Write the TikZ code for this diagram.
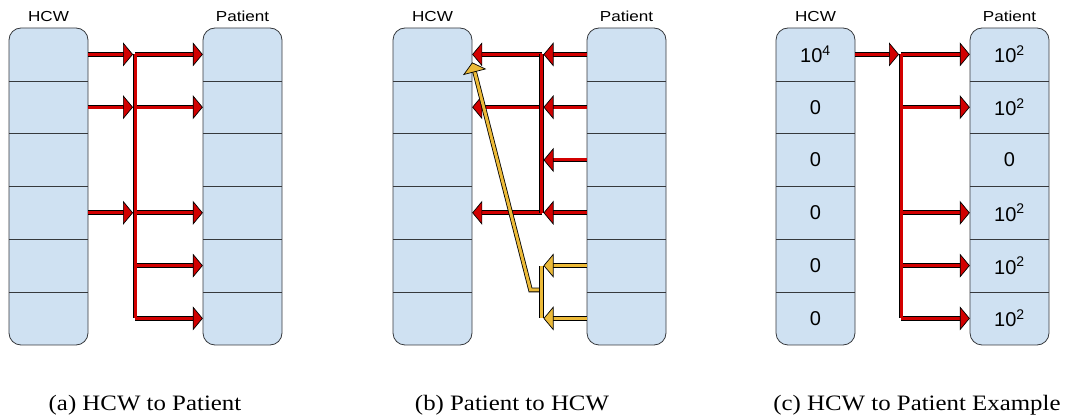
\documentclass[tikz,border=0pt]{standalone}
\usepackage{fontspec}
\setmainfont{Liberation Serif}
\setsansfont{Liberation Sans}
\newfontfamily\capfont[FakeStretch=1.13]{Liberation Serif}
\newfontfamily\headfont[FakeStretch=1.18]{Liberation Sans}
\usetikzlibrary{arrows.meta,positioning}

\definecolor{cellblue}{RGB}{207,225,242}
\definecolor{cellline}{RGB}{54,57,61}
\definecolor{pipered}{RGB}{210,0,0}
\definecolor{pipeyellow}{RGB}{236,186,56}

\tikzset{
  stackbox/.style={draw=cellline, fill=cellblue, line width=0.8pt, rounded corners=12pt},
  cellbox/.style={minimum width=79pt, minimum height=52.8pt, inner sep=0pt, font=\sffamily\fontsize{20}{20}\selectfont},
  sepline/.style={draw=cellline, line width=0.8pt},
  headlbl/.style={inner sep=0pt, font=\headfont\fontsize{14.5}{14.5}\selectfont},
  subcap/.style={anchor=base, inner sep=0pt, font=\capfont\fontsize{22}{22}\selectfont},
  pipe/.style={line width=3pt, draw=#1,
    -{Triangle[length=10pt,width=24pt,fill=#1,color=black,line width=0.7pt]},
    preaction={draw=black, line width=4.6pt, -, shorten >=9pt}},
  bus/.style={line width=3pt, draw=#1, preaction={draw=black, line width=4.6pt}},
}

% one column of six cells: name, left x, labels
\newcommand{\cellstack}[3]{%
  \path[stackbox] (#2,28) rectangle ++(79,317);
  \foreach \lbl [count=\i] in {#3}
    \node[cellbox] (#1\i) at (#2+39.5,{28+52.8*(\i-0.5)}) {\lbl};
  \foreach \i in {1,...,5}
    \draw[sepline] (#1\i.south west) -- (#1\i.south east);
}

\begin{document}
\begin{tikzpicture}[x=1pt,y=-1pt]
\useasboundingbox (0,0) rectangle (1066,419);

% (a) HCW to Patient
\cellstack{ah}{9}{{},{},{},{},{},{}}
\cellstack{ap}{203}{{},{},{},{},{},{}}
\node[headlbl, above=6pt of ah1.north] (ahead) {HCW};
\node[headlbl, above=6pt of ap1.north] (aphead) {Patient};
\coordinate (abus) at (135,0);
\foreach \i in {1,2,4}
  \draw[pipe=pipered] (ah\i.east) -- ([xshift=-2pt]ah\i.east -| abus);
\foreach \i in {1,2,4,5,6}
  \draw[pipe=pipered] (ap\i.west -| abus) -- (ap\i.west);
\draw[bus=pipered] (ah1.east -| abus) -- (ap6.west -| abus);

% (b) Patient to HCW
\cellstack{bh}{393}{{},{},{},{},{},{}}
\cellstack{bp}{587}{{},{},{},{},{},{}}
\node[headlbl, above=6pt of bh1.north] (bhhead) {HCW};
\node[headlbl, above=6pt of bp1.north] (bphead) {Patient};
\coordinate (bbus) at (541.5,0);
\foreach \i in {1,2,3,4}
  \draw[pipe=pipered] (bp\i.west) -- ([xshift=2pt]bp\i.west -| bbus);
\foreach \i in {1,2,4}
  \draw[pipe=pipered] (bh\i.east -| bbus) -- (bh\i.east);
\draw[bus=pipered] (bp1.west -| bbus) -- (bp4.west -| bbus);
\foreach \i in {5,6}
  \draw[pipe=pipeyellow] (bp\i.west) -- ([xshift=2pt]bp\i.west -| bbus);
\coordinate (yjoin) at (541.5,290);
\draw[pipe=pipeyellow] (yjoin) -- ++(-11,0) -- ([yshift=-8pt]bh1.east);
\draw[bus=pipeyellow] (bp5.west -| bbus) -- (bp6.west -| bbus);

% (c) HCW to Patient Example
\cellstack{ch}{776}{10\textsuperscript{4},0,0,0,0,0}
\cellstack{cp}{970}{10\textsuperscript{2},10\textsuperscript{2},0,10\textsuperscript{2},10\textsuperscript{2},10\textsuperscript{2}}
\node[headlbl, above=6pt of ch1.north] (chhead) {HCW};
\node[headlbl, above=6pt of cp1.north] (cphead) {Patient};
\coordinate (cbus) at (901,0);
\draw[pipe=pipered] (ch1.east) -- ([xshift=-2pt]ch1.east -| cbus);
\foreach \i in {1,2,4,5,6}
  \draw[pipe=pipered] (cp\i.west -| cbus) -- (cp\i.west);
\draw[bus=pipered] (ch1.east -| cbus) -- (cp6.west -| cbus);

% captions
\node[subcap] (capa) at (145,411) {(a) HCW to Patient};
\node[subcap] (capb) at (512,411) {(b) Patient to HCW};
\node[subcap] (capc) at (917,411) {(c) HCW to Patient Example};
\end{tikzpicture}
\end{document}
